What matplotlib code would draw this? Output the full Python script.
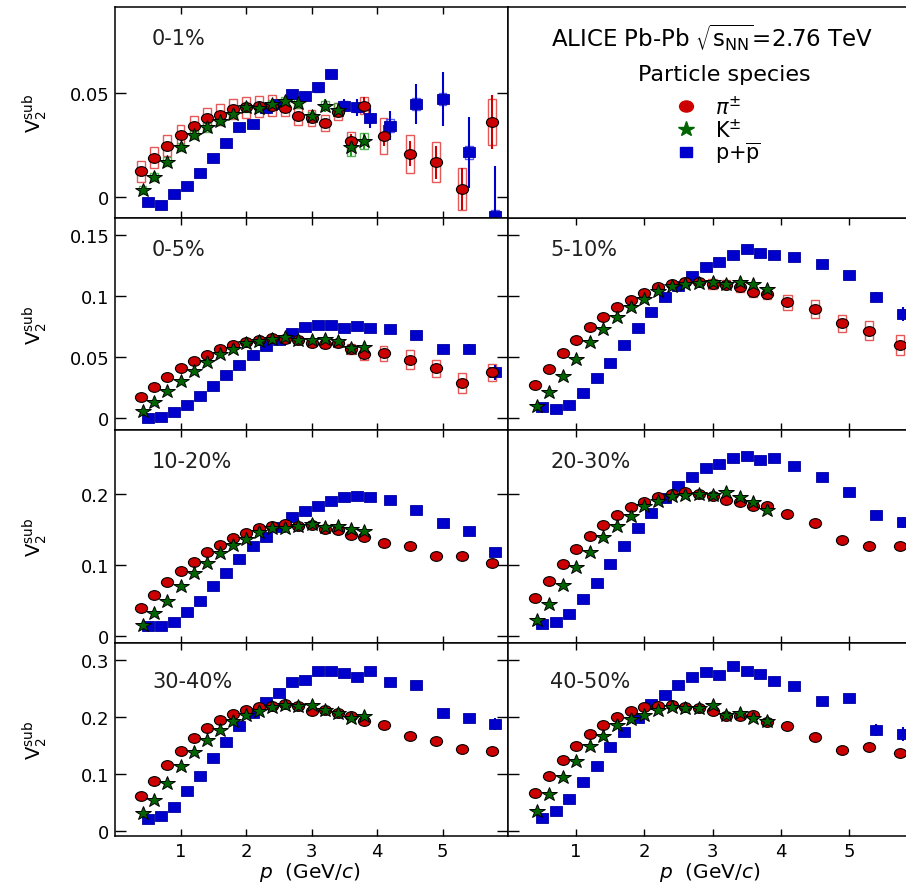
import matplotlib
matplotlib.use('Agg')
import matplotlib.pyplot as plt
from matplotlib.markers import MarkerStyle
from matplotlib.transforms import Affine2D
from matplotlib.patches import Rectangle

# centrality classes, in the order the panels are drawn
centrality = ['0-1%', '0-5%', '5-10%', '10-20%', '20-30%', '30-40%', '40-50%']

# momentum bins (GeV/c)
pi_x = [0.4, 0.6, 0.8, 1.0, 1.2, 1.4, 1.6, 1.8, 2.0, 2.2, 2.4, 2.6, 2.8, 3.0, 3.2, 3.4,
        3.6, 3.8, 4.1, 4.5, 4.9, 5.3, 5.75]
k_x = [0.42, 0.6, 0.8, 1.0, 1.2, 1.4, 1.6, 1.8, 2.0, 2.2, 2.4, 2.6, 2.8, 3.0, 3.2, 3.4,
       3.6, 3.8]
p_x = [0.5, 0.7, 0.9, 1.1, 1.3, 1.5, 1.7, 1.9, 2.1, 2.3, 2.5, 2.7, 2.9, 3.1, 3.3, 3.5,
       3.7, 3.9, 4.2, 4.6, 5.0, 5.4, 5.8]

# v2^sub, one list per centrality class
pi_v2 = [
    [0.0125, 0.019, 0.0248, 0.0299, 0.034, 0.0379, 0.0396, 0.0423, 0.0431, 0.0436, 0.044, 0.043,
     0.0388, 0.038, 0.0356, 0.041, 0.0272, 0.044, 0.0295, 0.0208, 0.0168, 0.004, 0.036],
    [0.0171, 0.0259, 0.0335, 0.0408, 0.0471, 0.052, 0.0566, 0.0602, 0.062, 0.064, 0.0656, 0.0648,
     0.064, 0.0612, 0.0607, 0.0612, 0.0566, 0.0525, 0.0531, 0.0479, 0.0408, 0.0289, 0.0376],
    [0.0275, 0.0403, 0.0531, 0.064, 0.0743, 0.083, 0.0906, 0.0969, 0.1023, 0.107, 0.1097, 0.1116,
     0.1111, 0.1097, 0.1092, 0.107, 0.1029, 0.1015, 0.0947, 0.0893, 0.0776, 0.0716, 0.0599],
    [0.0398, 0.0581, 0.0759, 0.0913, 0.1049, 0.118, 0.1283, 0.1377, 0.1452, 0.1518, 0.1555, 0.1579,
     0.1555, 0.1564, 0.1508, 0.1494, 0.1424, 0.1391, 0.1312, 0.1274, 0.1134, 0.1124, 0.103],
    [0.0534, 0.0773, 0.1016, 0.1227, 0.1415, 0.1564, 0.1705, 0.1813, 0.1892, 0.1953, 0.2, 0.2033,
     0.2, 0.1977, 0.192, 0.1892, 0.1836, 0.1827, 0.1719, 0.1593, 0.1354, 0.1274, 0.1265],
    [0.0625, 0.0887, 0.1162, 0.1413, 0.1629, 0.1804, 0.195, 0.2055, 0.2131, 0.2171, 0.22, 0.223,
     0.22, 0.2113, 0.2125, 0.2072, 0.2025, 0.1938, 0.1862, 0.1664, 0.1576, 0.1442, 0.1413],
    [0.0665, 0.0963, 0.1249, 0.15, 0.1704, 0.1868, 0.2008, 0.2113, 0.2171, 0.22, 0.2212, 0.2171,
     0.2154, 0.2113, 0.2025, 0.2025, 0.2043, 0.192, 0.1839, 0.1646, 0.143, 0.1471, 0.1366],
]
k_v2 = [
    [0.0035, 0.0096, 0.0171, 0.024, 0.0299, 0.0335, 0.0367, 0.040, 0.0431, 0.043, 0.0447, 0.0463,
     0.045, 0.039, 0.044, 0.042, 0.024, 0.027],
    [0.0063, 0.0131, 0.0226, 0.0308, 0.039, 0.0457, 0.0525, 0.0566, 0.0612, 0.0634, 0.0648, 0.0661,
     0.064, 0.064, 0.0648, 0.0629, 0.0574, 0.058],
    [0.0103, 0.0218, 0.0348, 0.0485, 0.0621, 0.073, 0.083, 0.0906, 0.0974, 0.1043, 0.1083, 0.1097,
     0.1105, 0.1111, 0.1097, 0.1111, 0.1097, 0.1056],
    [0.0159, 0.0323, 0.0501, 0.0712, 0.0885, 0.103, 0.1171, 0.1283, 0.1368, 0.1461, 0.1518, 0.1518,
     0.1555, 0.1579, 0.1532, 0.1555, 0.1508, 0.1485],
    [0.0234, 0.0454, 0.0721, 0.097, 0.119, 0.1391, 0.1546, 0.1686, 0.1827, 0.1906, 0.1977, 0.1991,
     0.2, 0.1986, 0.2023, 0.1953, 0.1892, 0.1775],
    [0.0321, 0.0549, 0.0846, 0.115, 0.1395, 0.1605, 0.178, 0.1938, 0.2037, 0.2113, 0.2171, 0.2212,
     0.22, 0.2218, 0.2125, 0.2072, 0.1985, 0.2025],
    [0.0362, 0.0654, 0.0957, 0.1226, 0.1488, 0.1675, 0.1862, 0.1967, 0.2037, 0.2125, 0.2183, 0.216,
     0.216, 0.2218, 0.2037, 0.2072, 0.1979, 0.1938],
]
p_v2 = [
    [-0.002, -0.0035, 0.0016, 0.0056, 0.0117, 0.0187, 0.026, 0.0335, 0.035, 0.043, 0.0447, 0.0495,
     0.0487, 0.0527, 0.0591, 0.044, 0.0431, 0.038, 0.0343, 0.0447, 0.0471, 0.0216, -0.0091],
    [0.0, 0.0014, 0.0054, 0.0109, 0.018, 0.0267, 0.0357, 0.0436, 0.0517, 0.0593, 0.064, 0.070,
     0.0743, 0.0765, 0.0765, 0.0735, 0.0751, 0.0735, 0.073, 0.068, 0.0566, 0.0566, 0.0376],
    [0.0095, 0.0076, 0.0112, 0.0207, 0.0327, 0.0452, 0.0602, 0.0735, 0.0866, 0.0994, 0.1083, 0.1165,
     0.1239, 0.1279, 0.1337, 0.1383, 0.135, 0.1334, 0.1315, 0.126, 0.1173, 0.0994, 0.0852],
    [0.015, 0.0141, 0.0206, 0.0347, 0.0501, 0.0703, 0.089, 0.1087, 0.1274, 0.1391, 0.1532, 0.1672,
     0.1766, 0.1836, 0.1906, 0.1953, 0.1967, 0.1953, 0.192, 0.178, 0.1593, 0.1485, 0.118],
    [0.0173, 0.0206, 0.0314, 0.0525, 0.0749, 0.1016, 0.1265, 0.1518, 0.1733, 0.1939, 0.2108, 0.2234,
     0.2361, 0.2422, 0.2501, 0.2539, 0.2483, 0.2501, 0.2389, 0.2234, 0.2023, 0.1705, 0.1602],
    [0.0216, 0.0274, 0.0432, 0.0712, 0.0975, 0.1278, 0.1558, 0.1839, 0.2072, 0.2259, 0.2422, 0.2621,
     0.265, 0.2802, 0.2813, 0.2767, 0.2697, 0.2813, 0.2621, 0.2568, 0.2066, 0.1985, 0.188],
    [0.0233, 0.0362, 0.0566, 0.0858, 0.115, 0.1471, 0.1745, 0.1979, 0.223, 0.2387, 0.2562, 0.2697,
     0.2784, 0.2738, 0.2889, 0.2802, 0.2755, 0.2638, 0.2551, 0.2288, 0.2329, 0.178, 0.1704],
]

# statistical errors, 0-1% panel
pi_stat_01 = [0.001, 0.001, 0.001, 0.001, 0.001, 0.001, 0.001, 0.001, 0.001, 0.0015, 0.0015, 0.0015,
              0.002, 0.002, 0.002, 0.0025, 0.003, 0.004, 0.005, 0.006, 0.008, 0.010, 0.013]
k_stat_01 = [0.001, 0.001, 0.001, 0.001, 0.001, 0.001, 0.001, 0.0015, 0.0015, 0.0015, 0.002, 0.002,
             0.002, 0.0025, 0.003, 0.003, 0.004, 0.004]
p_stat_01 = [0.001, 0.001, 0.001, 0.001, 0.001, 0.001, 0.001, 0.001, 0.0015, 0.0015, 0.0015, 0.002,
             0.002, 0.002, 0.002, 0.003, 0.004, 0.005, 0.007, 0.0097, 0.013, 0.017, 0.024]
# statistical errors of the last five proton points, other panels
p_stat_hi = [
    None,
    [0.002, 0.002, 0.003, 0.004, 0.006],
    [0.002, 0.002, 0.003, 0.004, 0.006],
    [0.002, 0.002, 0.003, 0.004, 0.006],
    [0.002, 0.003, 0.004, 0.006, 0.008],
    [0.003, 0.004, 0.005, 0.008, 0.010],
    [0.003, 0.004, 0.006, 0.010, 0.012],
]

# systematic uncertainties (boxes)
pi_sys = [
    [0.005, 0.005, 0.005, 0.005, 0.005, 0.005, 0.005, 0.005, 0.005, 0.005, 0.005, 0.004,
     0.004, 0.004, 0.004, 0.004, 0.004, 0.004, 0.0085, 0.009, 0.0095, 0.010, 0.011],
    [0.002, 0.002, 0.002, 0.002, 0.002, 0.002, 0.002, 0.002, 0.002, 0.002, 0.002, 0.003,
     0.003, 0.003, 0.003, 0.003, 0.004, 0.005, 0.006, 0.008, 0.007, 0.008, 0.007],
    [0.002, 0.002, 0.002, 0.002, 0.002, 0.002, 0.002, 0.002, 0.002, 0.002, 0.002, 0.003,
     0.003, 0.004, 0.004, 0.004, 0.004, 0.004, 0.006, 0.007, 0.007, 0.008, 0.008],
]
k_sys_01 = [0.002, 0.002, 0.002, 0.002, 0.002, 0.002, 0.002, 0.002, 0.002, 0.002, 0.002, 0.002,
            0.002, 0.002, 0.002, 0.003, 0.004, 0.004]
p_sys_01 = [0.0015, 0.0015, 0.0015, 0.0015, 0.0015, 0.0015, 0.0015, 0.0015, 0.0015, 0.002, 0.002,
            0.002, 0.002, 0.002, 0.002, 0.002, 0.002, 0.002, 0.003, 0.003, 0.003, 0.003, 0.003]

RED = '#cc0000'
GREEN = '#006400'
BLUE = '#0000cc'

W, H = 906, 887
fig = plt.figure(figsize=(W / 100, H / 100), dpi=100)

col_px = [(115, 508), (508, 917)]
row_px = [(8, 219), (219, 431), (431, 644), (644, 837)]
row_ylim = [(-0.0099, 0.0912), (-0.0096, 0.1636), (-0.0094, 0.29), (-0.008, 0.33)]
row_yticks = [[0, 0.05], [0, 0.05, 0.1, 0.15], [0, 0.1, 0.2], [0, 0.1, 0.2, 0.3]]
panel_cell = [(0, 0), (1, 0), (1, 1), (2, 0), (2, 1), (3, 0), (3, 1)]


def make_ax(r, c):
    x0, x1 = col_px[c]
    y0, y1 = row_px[r]
    return fig.add_axes([x0 / W, 1 - y1 / H, (x1 - x0) / W, (y1 - y0) / H])


circ = MarkerStyle('o', transform=Affine2D().scale(1.25, 1.0))
star = MarkerStyle('*', transform=Affine2D().scale(1.1, 1.0))
sq = MarkerStyle('s', transform=Affine2D().scale(1.22, 1.0))


def sys_boxes(ax, xs, ys, errs, color, w=0.12):
    for x, y, e in zip(xs, ys, errs):
        ax.add_patch(Rectangle((x - w / 2, y - e), w, 2 * e, fill=False, ec=color,
                               lw=1.0, alpha=0.8, zorder=1))


for i, name in enumerate(centrality):
    r, c = panel_cell[i]
    ax = make_ax(r, c)

    # systematic boxes
    if i < 3:
        sys_boxes(ax, pi_x, pi_v2[i], pi_sys[i], '#e03030')
    if i == 0:
        sys_boxes(ax, k_x, k_v2[i], k_sys_01, '#30a030')
        sys_boxes(ax, p_x, p_v2[i], p_sys_01, '#3030ff')
        ax.errorbar(pi_x, pi_v2[i], yerr=pi_stat_01, fmt='none', ecolor=RED, elinewidth=1.5, zorder=2)
        ax.errorbar(k_x, k_v2[i], yerr=k_stat_01, fmt='none', ecolor='#20a020', elinewidth=1.5, zorder=2)
        ax.errorbar(p_x, p_v2[i], yerr=p_stat_01, fmt='none', ecolor=BLUE, elinewidth=1.5, zorder=2)
    else:
        ax.errorbar(p_x[-5:], p_v2[i][-5:], yerr=p_stat_hi[i], fmt='none', ecolor=BLUE,
                    elinewidth=1.5, zorder=2)

    ax.plot(p_x, p_v2[i], ls='none', marker=sq, ms=6.8, mfc=BLUE, mec='#0000a0', mew=0.6, zorder=3)
    ax.plot(pi_x, pi_v2[i], ls='none', marker=circ, ms=7, mfc=RED, mec='black', mew=0.8, zorder=4)
    ax.plot(k_x, k_v2[i], ls='none', marker=star, ms=10.5, mfc=GREEN, mec='black', mew=0.7, zorder=5)

    ax.set_xlim(0, 6)
    ax.set_ylim(*row_ylim[r])
    ax.set_xticks([1, 2, 3, 4, 5])
    ax.set_yticks(row_yticks[r])
    ax.set_yticklabels(['%g' % t for t in row_yticks[r]])
    ax.tick_params(direction='in', top=True, right=True, labelsize=13, width=1.0)
    ax.tick_params(axis='x', length=5, pad=4)
    ax.tick_params(axis='y', length=8, pad=4)
    if r != 3:
        ax.tick_params(axis='x', labelbottom=False)
    if c != 0:
        ax.tick_params(axis='y', labelleft=False)
    for s in ax.spines.values():
        s.set_linewidth(1.1)

    top = 0.853 if r < 3 else 0.803
    ax.text(0.094 if c == 0 else 0.103, top, name, transform=ax.transAxes,
            ha='left', va='center', fontsize=15, color='#202020')

    if c == 0:
        y0, y1 = row_px[r]
        fig.text(35 / W, 1 - (y0 + y1) / 2 / H, r'$\mathregular{V_2^{sub}}$',
                 rotation=90, ha='center', va='center', fontsize=14)
    if r == 3:
        xc = 310 if c == 0 else 710
        fig.text(xc / W, 1 - 873 / H, r'$\it{p}$  (GeV/$\it{c}$)', ha='center', va='center',
                 fontsize=14.5)

# legend panel
leg = make_ax(0, 1)
leg.set_xticks([])
leg.set_yticks([])
for s in leg.spines.values():
    s.set_linewidth(1.1)
leg.text(0.499, 0.858, r'ALICE Pb-Pb $\sqrt{\mathregular{s_{NN}}}$=2.76 TeV', transform=leg.transAxes,
         ha='center', va='center', fontsize=16.5)
leg.text(0.53, 0.682, 'Particle species', transform=leg.transAxes, ha='center', va='center',
         fontsize=16)
leg_items = [(circ, RED, 8, r'$\pi^{\pm}$', 0.531), (star, GREEN, 11, r'K$^{\pm}$', 0.422),
             (sq, BLUE, 7, r'p+$\overline{\rm p}$', 0.313)]
for mk, col, ms, lab, yy in leg_items:
    leg.plot([0.435], [yy], ls='none', marker=mk, ms=ms, mfc=col, mec=col, transform=leg.transAxes)
    leg.text(0.505, yy, lab, transform=leg.transAxes, ha='left', va='center', fontsize=15)

fig.savefig('out.png', dpi=100)
